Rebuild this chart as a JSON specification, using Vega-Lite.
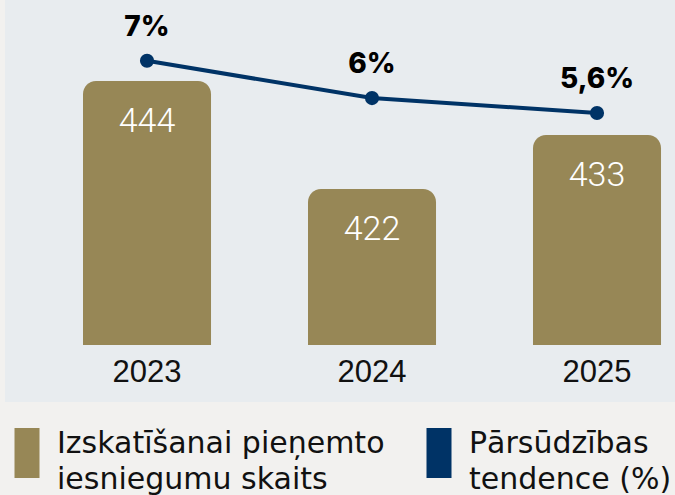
{
  "$schema": "https://vega.github.io/schema/vega-lite/v6.json",
  "width": 670,
  "height": 402,
  "padding": {"left": 5, "top": 0, "right": 0, "bottom": 0},
  "background": "#f2f1ef",
  "config": {"view": {"fill": "#e8ecef", "stroke": null}, "style": {"guide-label": {"lineHeight": 36}}},
  "data": {
    "values": [
      {"year": "2023", "count": 444, "pct": 7.0, "pctLabel": "7%", "series": "Izskatīšanai pieņemto iesniegumu skaits"},
      {"year": "2024", "count": 422, "pct": 6.0, "pctLabel": "6%", "series": "Izskatīšanai pieņemto iesniegumu skaits"},
      {"year": "2025", "count": 433, "pct": 5.6, "pctLabel": "5,6%", "series": "Izskatīšanai pieņemto iesniegumu skaits"}
    ]
  },
  "encoding": {
    "x": {
      "field": "year",
      "type": "nominal",
      "scale": {"type": "band", "paddingInner": 0.431, "paddingOuter": 0.2044, "align": 0.848},
      "axis": {
        "orient": "bottom",
        "offset": -57,
        "domain": false,
        "ticks": false,
        "labelPadding": 12,
        "labelFontSize": 31,
        "labelFont": "Liberation Sans",
        "labelColor": "#111111",
        "labelAngle": 0,
        "title": null
      }
    }
  },
  "layer": [
    {
      "mark": {"type": "bar", "cornerRadiusTopLeft": 13, "cornerRadiusTopRight": 13},
      "encoding": {
        "y": {"field": "count", "type": "quantitative", "scale": {"domain": [378.6, 460.5], "zero": false, "nice": false}, "axis": null},
        "y2": {"datum": 390.2},
        "color": {
          "field": "series",
          "type": "nominal",
          "scale": {
            "domain": ["Izskatīšanai pieņemto iesniegumu skaits", "Pārsūdzības tendence (%)"],
            "range": ["#978756", "#003366"]
          },
          "legend": {
            "orient": "none",
            "legendX": 7,
            "legendY": 438,
            "direction": "horizontal",
            "columns": 2,
            "columnPadding": 39,
            "padding": 0,
            "title": null,
            "symbolType": "M-1,-2H1V2H-1Z",
            "symbolSize": 625,
            "symbolStrokeWidth": 0,
            "labelOffset": 15,
            "labelFontSize": 30,
            "labelFont": "DejaVu Sans",
            "labelColor": "#111111",
            "labelLimit": 600,
            "labelBaseline": "alphabetic",
            "labelExpr": "datum.label == 'Izskatīšanai pieņemto iesniegumu skaits' ? ['Izskatīšanai pieņemto', 'iesniegumu skaits'] : ['Pārsūdzības', 'tendence (%)']",
            "encode": {"labels": {"lineHeight": {"value": 36}}}
          }
        }
      }
    },
    {
      "mark": {"type": "text", "dy": 41, "fontSize": 34, "font": "Roboto", "fontWeight": 300, "color": "#ffffff"},
      "encoding": {
        "y": {"field": "count", "type": "quantitative", "scale": {"domain": [378.6, 460.5], "zero": false, "nice": false}, "axis": null},
        "text": {"field": "count", "type": "quantitative"}
      }
    },
    {
      "mark": {"type": "line", "color": "#003366", "strokeWidth": 4, "point": {"size": 200, "filled": true, "color": "#003366", "opacity": 1}},
      "encoding": {
        "y": {"field": "pct", "type": "quantitative", "scale": {"domain": [-2.15, 8.63], "zero": false, "nice": false}, "axis": null}
      }
    },
    {
      "mark": {"type": "text", "dy": -33, "fontSize": 28, "font": "Inter", "fontWeight": 800, "color": "#000000"},
      "encoding": {
        "y": {"field": "pct", "type": "quantitative", "scale": {"domain": [-2.15, 8.63], "zero": false, "nice": false}, "axis": null},
        "text": {"field": "pctLabel", "type": "nominal"}
      }
    }
  ],
  "resolve": {"scale": {"y": "independent"}}
}
